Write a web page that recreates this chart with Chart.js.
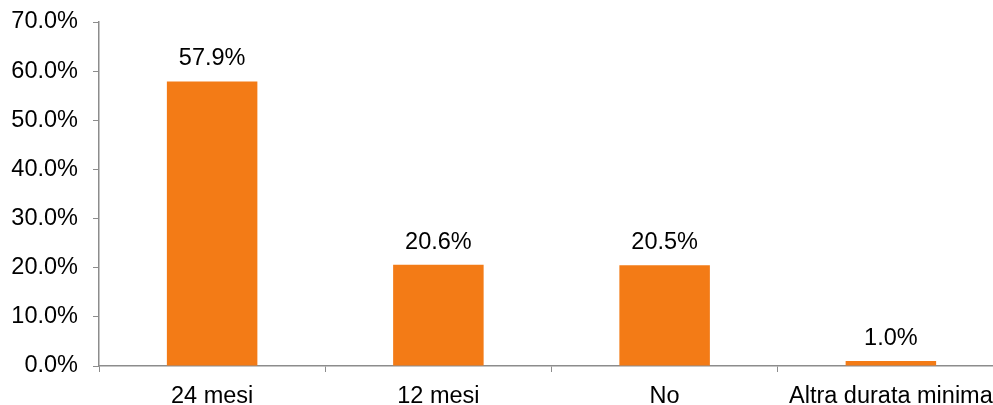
<!DOCTYPE html>
<html>
<head>
<meta charset="utf-8">
<script src="https://cdn.jsdelivr.net/npm/chart.js@4/dist/chart.umd.min.js"></script>
<style>
  html, body { margin: 0; padding: 0; background: #fff; overflow: hidden; }
  #wrap { width: 1004px; height: 405px; }
</style>
</head>
<body>
<div id="wrap"><canvas id="myChart" width="1004" height="405"></canvas></div>
<script>
const categories = ["24 mesi", "12 mesi", "No", "Altra durata minima"];
const values = [57.9, 20.6, 20.5, 1.0];
const barColor = "#F37B16";
const axisColor = "#8c8c8c";
const fontFamily = "'Liberation Sans', Arial, sans-serif";
const fontSize = 23.5;

// etichette con il valore sopra ogni barra
const valueLabels = {
  id: 'valueLabels',
  afterDatasetsDraw(chart) {
    const ctx = chart.ctx;
    const meta = chart.getDatasetMeta(0);
    ctx.save();
    ctx.font = fontSize + "px " + fontFamily;
    ctx.fillStyle = "#000";
    ctx.textAlign = "center";
    ctx.textBaseline = "alphabetic";
    meta.data.forEach((bar, i) => {
      ctx.fillText(values[i].toFixed(1) + "%", bar.x, bar.y - 16);
    });
    ctx.restore();
  }
};

new Chart("myChart", {
  type: "bar",
  data: {
    labels: categories,
    datasets: [{
      data: values,
      backgroundColor: barColor,
      barPercentage: 0.4,
      categoryPercentage: 1.0
    }]
  },
  options: {
    responsive: false,
    animation: false,
    layout: { padding: { top: 22, right: 0, left: 0, bottom: 0 } },
    plugins: {
      legend: { display: false },
      tooltip: { enabled: false }
    },
    scales: {
      x: {
        grid: {
          offset: true,
          drawOnChartArea: false,
          tickLength: 6,
          color: axisColor
        },
        border: { color: axisColor, width: 1.5 },
        ticks: {
          color: "#000",
          font: { family: fontFamily, size: fontSize },
          padding: 10,
          maxRotation: 0,
          autoSkip: false
        },
        afterFit(scale) {
          scale.height = 39;
          scale.paddingLeft = 0;
          scale.paddingRight = 0;
        }
      },
      y: {
        min: 0,
        max: 70,
        grid: {
          drawOnChartArea: false,
          tickLength: 6,
          color: axisColor
        },
        border: { color: axisColor, width: 1.5 },
        ticks: {
          stepSize: 10,
          color: "#000",
          font: { family: fontFamily, size: fontSize },
          padding: 15,
          callback: v => v.toFixed(1) + "%"
        },
        afterFit(scale) {
          scale.width = 99;
          scale.paddingTop = 0;
          scale.paddingBottom = 0;
        }
      }
    }
  },
  plugins: [valueLabels]
});
</script>
</body>
</html>
